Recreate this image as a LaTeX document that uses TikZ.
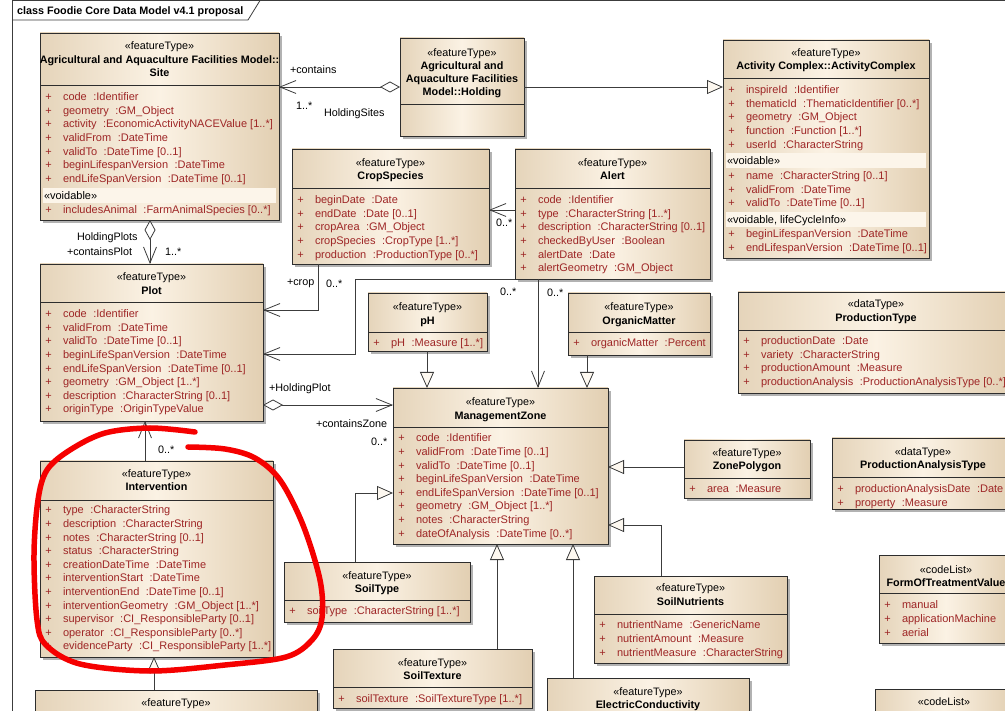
\documentclass[tikz,border=0pt]{standalone}
\usepackage{fontspec}
\setmainfont{Liberation Sans}
\usetikzlibrary{arrows.meta,fit,calc}
\definecolor{boxL}{RGB}{229,212,186}
\definecolor{boxM}{RGB}{251,242,228}
\definecolor{boxR}{RGB}{226,207,178}
\definecolor{boxline}{RGB}{45,45,45}
\definecolor{attrc}{RGB}{158,38,38}
\definecolor{bandc}{RGB}{252,245,234}
\definecolor{shadowc}{RGB}{178,178,178}
\definecolor{connc}{RGB}{60,60,60}
\definecolor{trifill}{RGB}{253,248,240}
\definecolor{markred}{RGB}{245,0,0}
\newcount\tnum
\newcommand\fs{\fontsize{10.8}{13}\selectfont}
\newcommand\fsa{\fontsize{11}{13}\selectfont}
\newcommand\attgap{\hspace{6.5pt}}
\newcommand\nextname{\global\advance\tnum by 1 }
\newcommand\ucls[6]{%
  \fill[shadowc] (#2+3,#3+3) rectangle (#4+3,#5+3);
  \node[umlbox, fit={(#2,#3) (#4,#5)}] (#1) {};
  \draw[sepline] (#2,#6) -- (#4,#6);}
\newcommand\ustereo[3]{\nextname\node[txt, anchor=base] (t\the\tnum) at (#1,#2+3.8) {#3};}
\newcommand\uname[3]{\nextname\node[txt, font=\fs\bfseries, anchor=base] (t\the\tnum) at (#1,#2+3.8) {#3};}
\newcommand\uattr[3]{\nextname\node[txt, font=\fsa, text=attrc, anchor=base] (t\the\tnum) at (#1+8.5,#2+3.8) {+};%
  \nextname\node[txt, font=\fsa, text=attrc, anchor=base west] (t\the\tnum) at (#1+23,#2+3.8) {#3};}
\newcommand\uattrs[3]{\foreach \attxt [count=\idx from 0] in {#3} {\uattr{#1}{#2+13.6*\idx}{\attxt}}}
\newcommand\uband[4]{\fill[bandc] (#1+3,#3-7.5) rectangle (#2-3,#3+7);%
  \nextname\node[txt, font=\fsa, anchor=base west] (t\the\tnum) at (#1+4,#3+3.8) {#4};}
\newcommand\ulbl[3]{\nextname\node[txt, anchor=base west] (t\the\tnum) at (#1,#2+3.8) {#3};}
\tikzset{
  txt/.style={inner sep=0pt, outer sep=0pt, font=\fs, text=black},
  umlbox/.style={draw=boxline, line width=0.9pt, left color=boxL, right color=boxR, middle color=boxM, inner sep=0pt, outer sep=0pt},
  sepline/.style={draw=boxline, line width=0.9pt},
  conn/.style={draw=connc, line width=0.8pt},
  navtip/.tip={Straight Barb[length=16pt,width=13pt]},
  diatip/.tip={Diamond[length=20pt,width=11pt,fill=white]},
  gentip/.tip={Triangle[length=16pt,width=14pt,fill=trifill]},
}
\begin{document}
\begin{tikzpicture}[x=1pt,y=-1pt]
\useasboundingbox (0,0) rectangle (1005,711);
\clip (0,0) rectangle (1005,711);
\fill[white] (0,0) rectangle (1005,711);
% frame
\draw[draw=connc, line width=0.8pt] (12,711) -- (12,0.5) -- (1005,0.5);
\draw[draw=connc, line width=0.8pt] (12,20) -- (248,20) -- (260,0.5);
\node[txt, font=\fs\bfseries, anchor=base west] (title) at (17,14.8) {class Foodie Core Data Model v4.1 proposal};

% ---------- boxes ----------
\ucls{site}{40}{33}{279}{220}{85}
\ustereo{159.5}{46}{«featureType»}
\uname{159.5}{60}{Agricultural and Aquaculture Facilities Model::}
\uname{159.5}{73}{Site}
\uattrs{40}{97}{code\attgap:Identifier, geometry\attgap:GM\_Object, activity\attgap:EconomicActivityNACEValue [1..*], validFrom\attgap:DateTime, validTo\attgap:DateTime [0..1], beginLifespanVersion\attgap:DateTime, endLifeSpanVersion\attgap:DateTime [0..1]}
\uband{40}{279}{196}{«voidable»}
\uattr{40}{210}{includesAnimal\attgap:FarmAnimalSpecies [0..*]}

\ucls{holding}{400}{38}{524}{136}{104}
\ustereo{462}{53}{«featureType»}
\uname{462}{66}{Agricultural and}
\uname{462}{79}{Aquaculture Facilities}
\uname{462}{92}{Model::Holding}

\ucls{ac}{723}{40}{929}{258}{78}
\ustereo{826}{53}{«featureType»}
\uname{826}{66}{Activity Complex::ActivityComplex}
\uattrs{723}{90}{inspireId\attgap:Identifier, thematicId\attgap:ThematicIdentifier [0..*], geometry\attgap:GM\_Object, function\attgap:Function [1..*], userId\attgap:CharacterString}
\uband{723}{929}{161}{«voidable»}
\uattrs{723}{176}{name\attgap:CharacterString [0..1], validFrom\attgap:DateTime, validTo\attgap:DateTime [0..1]}
\uband{723}{929}{220}{«voidable, lifeCycleInfo»}
\uattrs{723}{234}{beginLifespanVersion\attgap:DateTime, endLifespanVersion\attgap:DateTime [0..1]}

\ucls{crop}{292}{149}{489}{264}{188}
\ustereo{390.5}{163}{«featureType»}
\uname{390.5}{176}{CropSpecies}
\uattrs{292}{200}{beginDate\attgap:Date, endDate\attgap:Date [0..1], cropArea\attgap:GM\_Object, cropSpecies\attgap:CropType [1..*], production\attgap:ProductionType [0..*]}

\ucls{alert}{515}{149}{710}{279}{188}
\ustereo{612.5}{163}{«featureType»}
\uname{612.5}{176}{Alert}
\uattrs{515}{200}{code\attgap:Identifier, type\attgap:CharacterString [1..*], description\attgap:CharacterString [0..1], checkedByUser\attgap:Boolean, alertDate\attgap:Date, alertGeometry\attgap:GM\_Object}

\ucls{plot}{40}{264}{263}{421}{302}
\ustereo{151.5}{277}{«featureType»}
\uname{151.5}{291}{Plot}
\uattrs{40}{314}{code\attgap:Identifier, validFrom\attgap:DateTime, validTo\attgap:DateTime [0..1], beginLifeSpanVersion\attgap:DateTime, endLifeSpanVersion\attgap:DateTime [0..1], geometry\attgap:GM\_Object [1..*], description\attgap:CharacterString [0..1], originType\attgap:OriginTypeValue}

\ucls{ph}{368}{293}{487}{351}{332}
\ustereo{427.5}{307}{«featureType»}
\uname{427.5}{321}{pH}
\uattr{368}{343}{pH\attgap:Measure [1..*]}

\ucls{om}{568}{293}{710}{355}{332}
\ustereo{639}{307}{«featureType»}
\uname{639}{321}{OrganicMatter}
\uattr{568}{343}{organicMatter\attgap:Percent}

\ucls{mz}{393}{388}{608}{544}{427}
\ustereo{500.5}{402}{«featureType»}
\uname{500.5}{416}{ManagementZone}
\uattrs{393}{438}{code\attgap:Identifier, validFrom\attgap:DateTime [0..1], validTo\attgap:DateTime [0..1], beginLifeSpanVersion\attgap:DateTime, endLifeSpanVersion\attgap:DateTime [0..1], geometry\attgap:GM\_Object [1..*], notes\attgap:CharacterString, dateOfAnalysis\attgap:DateTime [0..*]}

\ucls{zp}{684}{440}{810}{498}{478}
\ustereo{747}{453}{«featureType»}
\uname{747}{466}{ZonePolygon}
\uattr{684}{489}{area\attgap:Measure}

\ucls{prod}{738}{292}{1014}{393}{330}
\ustereo{876}{304}{«dataType»}
\uname{876}{318}{ProductionType}
\uattrs{738}{341}{productionDate\attgap:Date, variety\attgap:CharacterString, productionAmount\attgap:Measure, productionAnalysis\attgap:ProductionAnalysisType [0..*]}

\ucls{pat}{832}{438}{1014}{509}{477}
\ustereo{923}{452}{«dataType»}
\uname{923}{465}{ProductionAnalysisType}
\uattrs{832}{489}{productionAnalysisDate\attgap:Date, property\attgap:Measure}

\ucls{fotv}{879}{555}{1013}{643}{593}
\ustereo{946}{570}{«codeList»}
\uname{946}{583}{FormOfTreatmentValue}
\uattrs{879}{605}{manual, applicationMachine, aerial}

\ucls{cl2}{875}{689}{1013}{760}{740}
\ustereo{944}{702}{«codeList»}

\ucls{st}{284}{562}{470}{622}{600}
\ustereo{377}{576}{«featureType»}
\uname{377}{589}{SoilType}
\uattr{284}{611}{soilType\attgap:CharacterString [1..*]}

\ucls{stx}{333}{649}{532}{708}{687}
\ustereo{432.5}{663}{«featureType»}
\uname{432.5}{676}{SoilTexture}
\uattr{333}{699}{soilTexture\attgap:SoilTextureType [1..*]}

\ucls{ec}{547}{678}{749}{760}{718}
\ustereo{648}{692}{«featureType»}
\uname{648}{705}{ElectricConductivity}

\ucls{sn}{594}{576}{787}{663}{614}
\ustereo{690.5}{588}{«featureType»}
\uname{690.5}{602}{SoilNutrients}
\uattrs{594}{625}{nutrientName\attgap:GenericName, nutrientAmount\attgap:Measure, nutrientMeasure\attgap:CharacterString}

\ucls{interv}{40}{461}{273}{657}{500}
\ustereo{156.5}{474}{«featureType»}
\uname{156.5}{487}{Intervention}
\uattrs{40}{510}{type\attgap:CharacterString, description\attgap:CharacterString, notes\attgap:CharacterString [0..1], status\attgap:CharacterString, creationDateTime\attgap:DateTime, interventionStart\attgap:DateTime, interventionEnd\attgap:DateTime [0..1], interventionGeometry\attgap:GM\_Object [1..*], supervisor\attgap:CI\_ResponsibleParty [0..1], operator\attgap:CI\_ResponsibleParty [0..*], evidenceParty\attgap:CI\_ResponsibleParty [1..*]}

\ucls{lower}{35}{690}{317}{760}{730}
\ustereo{176}{703}{«featureType»}

% ---------- connectors ----------
\draw[conn, navtip-diatip] (site.east |- holding.west) -- (holding.west);
\draw[conn, -gentip] (holding.east) -- (holding.east -| ac.west);
\coordinate (c1) at ([shift={(110,0)}]site.south west);
\draw[conn, diatip-navtip] (c1) -- (c1 |- plot.north);
\coordinate (c2) at ([shift={(26,0)}]crop.south west);
\draw[conn, -navtip] (c2) |- ([shift={(0,46)}]plot.north east);
\draw[conn, -navtip] (alert.south west) -- ++(-160,0) |- ([shift={(0,90)}]plot.north east);
\draw[conn, -navtip] ([shift={(0,61)}]alert.north west) -- ([shift={(0,61)}]crop.north east);
\coordinate (c3) at ([shift={(0,141)}]plot.north east);
\draw[conn, diatip-navtip] (c3) -- (c3 -| mz.west);
\coordinate (c4) at ([shift={(23,0)}]alert.south west);
\draw[conn, -navtip] (c4) -- (c4 |- mz.north);
\coordinate (c5) at ([shift={(105,0)}]interv.north west);
\draw[conn, -navtip] (c5) -- (c5 |- plot.south);
\coordinate (c6) at ([shift={(59,0)}]ph.south west);
\draw[conn, -gentip] (c6) -- (c6 |- mz.north);
\coordinate (c7) at ([shift={(19,0)}]om.south west);
\draw[conn, -gentip] (c7) -- (c7 |- mz.north);
\coordinate (c8) at ([shift={(0,27)}]zp.north west);
\draw[conn, -gentip] (c8) -- (c8 -| mz.east);
\coordinate (c9) at ([shift={(71,0)}]st.north west);
\draw[conn, -gentip] (c9) |- ([shift={(0,105)}]mz.north west);
\coordinate (c10) at ([shift={(164,0)}]stx.north west);
\draw[conn, -gentip] (c10) -- (c10 |- mz.south);
\coordinate (c11) at ([shift={(26,0)}]ec.north west);
\draw[conn, -gentip] (c11) -- (c11 |- mz.south);
\coordinate (c12) at ([shift={(67,0)}]sn.north west);
\draw[conn, -gentip] (c12) |- ([shift={(0,137)}]mz.north east);
\coordinate (c13) at ([shift={(119,0)}]lower.north west);
\draw[conn, -gentip] (c13) -- (c13 |- interv.south);

% ---------- labels ----------
\ulbl{290}{70}{+contains}
\ulbl{296}{106}{1..*}
\ulbl{324}{113}{HoldingSites}
\ulbl{77}{237}{HoldingPlots}
\ulbl{67}{252}{+containsPlot}
\ulbl{165}{252}{1..*}
\ulbl{287}{282}{+crop}
\ulbl{326}{284}{0..*}
\ulbl{496}{223}{0..*}
\ulbl{500}{292}{0..*}
\ulbl{547}{293}{0..*}
\ulbl{269}{388}{+HoldingPlot}
\ulbl{316}{424}{+containsZone}
\ulbl{371}{442}{0..*}
\ulbl{158}{450}{0..*}

% ---------- red marker ----------
\draw[markred, line width=5.5pt, line cap=round] plot[smooth, tension=0.55] coordinates {(195,432) (150,428) (105,433) (70,450) (47,470) (38,500) (34,555) (37,620) (46,645) (80,664) (150,671) (225,665) (286,657) (312,640) (322,618) (320,580) (303,525) (280,480) (255,458) (225,449) (188,447)};
\end{tikzpicture}
\end{document}
